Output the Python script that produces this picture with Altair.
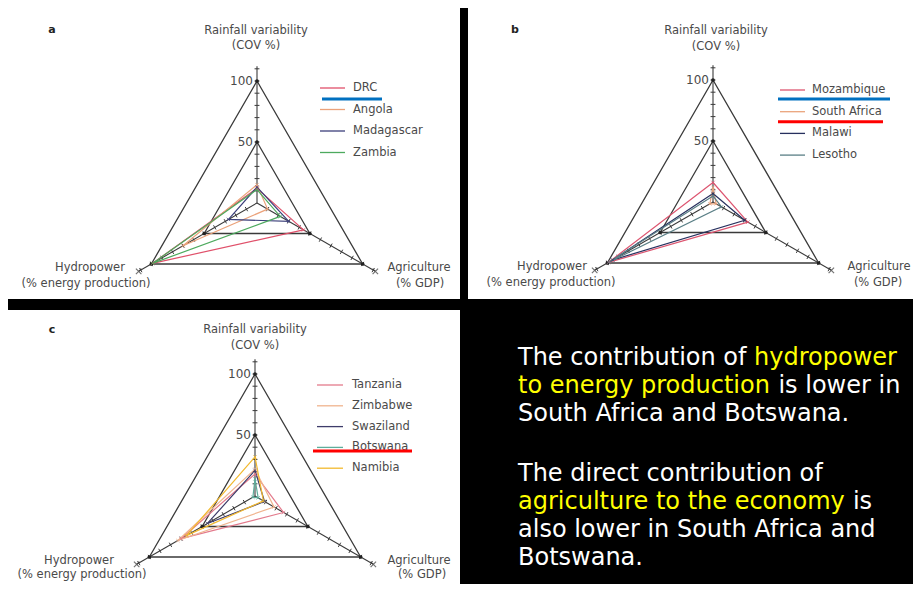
import altair as alt
import numpy as np
import pandas as pd

K = 1.22  # pixels per percentage unit in every radar panel

AXIS_NAMES = ["Rainfall variability", "Agriculture", "Hydropower"]
AXIS_ANGLES = [90.0, -30.0, 210.0]
AXIS_LENGTH = 112
TICK_VALUES = list(range(10, 111, 10))
GRID_LEVELS = [50, 100]
SCALE_LABELS = [100, 50]

# ---------------- panel a ----------------
a_countries = ["DRC", "Angola", "Madagascar", "Zambia"]
a_rainfall = [12, 15, 13, 11]
a_agriculture = [44, 10, 30, 22]
a_hydropower = [99, 70, 27, 99]
a_colors = ["#e0506a", "#eba27a", "#3b3f7a", "#4daa5e"]

# ---------------- panel b ----------------
b_countries = ["Mozambique", "South Africa", "Malawi", "Lesotho"]
b_rainfall = [16, 12, 7, 5]
b_agriculture = [33, 3, 30, 8]
b_hydropower = [99, 3, 95, 99]
b_colors = ["#dd5570", "#eaa47c", "#27305e", "#5a7f86"]

# ---------------- panel c ----------------
c_countries = ["Tanzania", "Zimbabwe", "Swaziland", "Botswana", "Namibia"]
c_rainfall = [18, 22, 21, 14, 32]
c_agriculture = [27, 18, 9, 3, 8]
c_hydropower = [70, 73, 45, 2, 65]
c_colors = ["#e37a8c", "#f0b48e", "#3e3c6a", "#5fae9c", "#f2b92e"]

# ---------------- commentary text ----------------
WHITE = "#ffffff"
YELLOW = "#ffff00"
note_lines = [
    [("The contribution of", WHITE), ("hydropower", YELLOW)],
    [("to energy production", YELLOW), ("is lower in", WHITE)],
    [("South Africa and Botswana.", WHITE)],
    [("The direct contribution of", WHITE)],
    [("agriculture to the economy", YELLOW), ("is", WHITE)],
    [("also lower in South Africa and", WHITE)],
    [("Botswana.", WHITE)],
]
note_y = [48, 76, 104, 164, 192, 220, 248]

FONT = "DejaVu Sans"
INK = "#3a3a3a"
LABEL = "#4a4a4a"
X_PATH = "M-1,-1L1,1M1,-1L-1,1"

# DejaVu Sans advance widths (units per em = 2048), used to join coloured segments
DV_W = {" ": 651, ".": 651, "A": 1401, "B": 1405, "S": 1300, "T": 1251,
        "a": 1255, "b": 1300, "c": 1126, "d": 1300, "e": 1260, "f": 721,
        "g": 1300, "h": 1298, "i": 569, "k": 1186, "l": 569, "m": 1995,
        "n": 1298, "o": 1253, "p": 1300, "r": 842, "s": 1067, "t": 803,
        "u": 1298, "v": 1212, "w": 1675, "y": 1212}


def text_width(s, size):
    return sum(DV_W.get(ch, 1200) for ch in s) / 2048.0 * size


def pol(v, ang):
    t = np.deg2rad(ang)
    return float(v * np.cos(t)), float(v * np.sin(t))


def make_panel(letter, countries, rain, agri, hydro, colors, W, H, cx, cy,
               titles, legend, underlines):
    xs = alt.Scale(domain=[-cx / K, (W - cx) / K], nice=False, zero=False)
    ys = alt.Scale(domain=[-(H - cy) / K, cy / K], nice=False, zero=False)

    def ux(p):
        return (p - cx) / K

    def uy(p):
        return (cy - p) / K

    X = alt.X("x:Q", scale=xs, axis=None)
    Y = alt.Y("y:Q", scale=ys, axis=None)

    # grid triangles
    grid = []
    for lev in GRID_LEVELS:
        for i, ang in enumerate(AXIS_ANGLES + [AXIS_ANGLES[0]]):
            x, y = pol(lev, ang)
            grid.append({"level": lev, "ord": i, "x": x, "y": y})
    grid_layer = alt.Chart(pd.DataFrame(grid)).mark_line(
        color=INK, strokeWidth=1.3).encode(X, Y, detail="level:N", order="ord:Q")

    # axis lines
    axes = []
    for ang in AXIS_ANGLES:
        x2, y2 = pol(AXIS_LENGTH, ang)
        axes.append({"x": 0.0, "y": 0.0, "x2": x2, "y2": y2})
    axis_layer = alt.Chart(pd.DataFrame(axes)).mark_rule(
        color=INK, strokeWidth=1.1).encode(X, Y, x2="x2:Q", y2="y2:Q")

    # tick marks
    ticks = []
    for ang in AXIS_ANGLES:
        t = np.deg2rad(ang)
        px_, py_ = -np.sin(t) * 2.0, np.cos(t) * 2.0
        for v in TICK_VALUES:
            x, y = pol(v, ang)
            ticks.append({"x": x - px_, "y": y - py_, "x2": x + px_, "y2": y + py_})
    tick_layer = alt.Chart(pd.DataFrame(ticks)).mark_rule(
        color=INK, strokeWidth=1).encode(X, Y, x2="x2:Q", y2="y2:Q")

    # axis end markers
    ends = [dict(zip(["x", "y"], pol(AXIS_LENGTH, a))) for a in AXIS_ANGLES[1:]]
    end_layer = alt.Chart(pd.DataFrame(ends)).mark_point(
        shape=X_PATH, size=30, color=INK, strokeWidth=1.2).encode(X, Y)

    # grid vertices
    verts = [dict(zip(["x", "y"], pol(l, a))) for l in GRID_LEVELS for a in AXIS_ANGLES]
    vert_layer = alt.Chart(pd.DataFrame(verts)).mark_point(
        shape="circle", filled=True, size=14, color="#222", opacity=1).encode(X, Y)

    # country polygons
    rows = []
    for c, r, a, h in zip(countries, rain, agri, hydro):
        vals = [r, a, h, r]
        for i, (v, ang) in enumerate(zip(vals, AXIS_ANGLES + [AXIS_ANGLES[0]])):
            x, y = pol(v, ang)
            rows.append({"country": c, "ord": i, "x": x, "y": y})
    poly = pd.DataFrame(rows)
    color = alt.Color("country:N", scale=alt.Scale(domain=countries, range=colors), legend=None)
    poly_layer = alt.Chart(poly).mark_line(strokeWidth=1.2).encode(
        X, Y, color=color, detail="country:N", order="ord:Q")
    pts_layer = alt.Chart(poly[poly["ord"] < 3]).mark_point(
        shape=X_PATH, size=12, strokeWidth=1).encode(X, Y, color=color)

    # scale labels on rainfall axis
    sl = pd.DataFrame({"x": [-4 / K] * len(SCALE_LABELS),
                       "y": [float(v) for v in SCALE_LABELS],
                       "t": [str(v) for v in SCALE_LABELS]})
    sl_layer = alt.Chart(sl).mark_text(
        align="right", baseline="middle", font=FONT, fontSize=12, color=LABEL
    ).encode(X, Y, text="t:N")

    # axis titles
    tt = pd.DataFrame([{"x": ux(p[1]), "y": uy(p[2]), "t": p[0]} for p in titles])
    title_layer = alt.Chart(tt).mark_text(
        align="center", baseline="middle", font=FONT, fontSize=11.5, color=LABEL
    ).encode(X, Y, text="t:N")

    lt = pd.DataFrame([{"x": ux(letter[1]), "y": uy(letter[2]), "t": letter[0]}])
    letter_layer = alt.Chart(lt).mark_text(
        align="center", baseline="middle", font=FONT, fontSize=11, fontWeight="bold", color="#222"
    ).encode(X, Y, text="t:N")

    # legend
    lx0, lx1, tx, ly0, ldy = legend
    lg = pd.DataFrame([{"country": c, "x": ux(lx0), "x2": ux(lx1), "tx": ux(tx),
                        "y": uy(ly0 + i * ldy)} for i, c in enumerate(countries)])
    leg_lines = alt.Chart(lg).mark_rule(strokeWidth=1.3).encode(
        X, Y, x2="x2:Q", color=color)
    leg_text = alt.Chart(lg).mark_text(
        align="left", baseline="middle", font=FONT, fontSize=11.5, color=LABEL
    ).encode(alt.X("tx:Q", scale=xs, axis=None), Y, text="country:N")

    layers = [grid_layer, axis_layer, tick_layer, end_layer, vert_layer,
              poly_layer, pts_layer, sl_layer, title_layer, letter_layer,
              leg_lines, leg_text]

    if underlines:
        ul = pd.DataFrame([{"x": ux(u[0]), "x2": ux(u[1]), "y": uy(u[2]), "c": u[3]}
                           for u in underlines])
        layers.append(alt.Chart(ul).mark_rule(strokeWidth=3).encode(
            X, Y, x2="x2:Q", color=alt.Color("c:N", scale=None)))

    return alt.layer(*layers).properties(
        width=W, height=H, view=alt.ViewBackground(fill="white", stroke=None))


panel_a = make_panel(
    ("a", 44, 22), a_countries, a_rainfall, a_agriculture, a_hydropower, a_colors,
    452, 291, 249, 195,
    [("Rainfall variability", 248, 23), ("(COV %)", 248, 38),
     ("Hydropower", 82, 260), ("(% energy production)", 78, 275.5),
     ("Agriculture", 411, 260), ("(% GDP)", 412, 276)],
    (312, 337, 345, 80, 21.5),
    [(314, 374, 91, "#0070c0")])

panel_b = make_panel(
    ("b", 47, 22), b_countries, b_rainfall, b_agriculture, b_hydropower, b_colors,
    445, 291, 245, 194,
    [("Rainfall variability", 248, 23), ("(COV %)", 248, 38.5),
     ("Hydropower", 84, 259), ("(% energy production)", 83, 275),
     ("Agriculture", 411, 259), ("(% GDP)", 410, 275)],
    (312, 337, 344, 82, 21.7),
    [(310, 422, 91, "#0070c0"), (310, 415, 113.7, "#ff0000")])

panel_c = make_panel(
    ("c", 44, 20), c_countries, c_rainfall, c_agriculture, c_hydropower, c_colors,
    452, 274, 247, 186,
    [("Rainfall variability", 247, 20), ("(COV %)", 247, 36),
     ("Hydropower", 71, 251), ("(% energy production)", 74, 265),
     ("Agriculture", 411, 251), ("(% GDP)", 414, 265)],
    (309, 335, 344, 75, 20.8),
    [(305, 404, 141, "#ff0000")])

# commentary panel
NOTE_SIZE = 24
segs = []
for ln, yv in zip(note_lines, note_y):
    x = 50.0
    for txt, col in ln:
        segs.append({"x": x, "y": yv, "t": txt, "c": col})
        x += text_width(txt + " ", NOTE_SIZE)
note_df = pd.DataFrame(segs)
note_panel = alt.Chart(note_df).mark_text(
    align="left", baseline="middle", font=FONT, fontSize=NOTE_SIZE
).encode(
    alt.X("x:Q", scale=alt.Scale(domain=[0, 445], nice=False, zero=False), axis=None),
    alt.Y("y:Q", scale=alt.Scale(domain=[274, 0], nice=False, zero=False), axis=None),
    text="t:N",
    color=alt.Color("c:N", scale=None),
).properties(width=445, height=274, view=alt.ViewBackground(fill="black", stroke=None))

chart = alt.vconcat(
    alt.hconcat(panel_a, panel_b, spacing=8).resolve_scale(color="independent"),
    alt.hconcat(panel_c, note_panel, spacing=8).resolve_scale(color="independent"),
    spacing=11,
).resolve_scale(color="independent").properties(
    background="black", padding=0).configure_view(stroke=None)

chart.save("out.html", embed_options={"renderer": "svg", "actions": False})
